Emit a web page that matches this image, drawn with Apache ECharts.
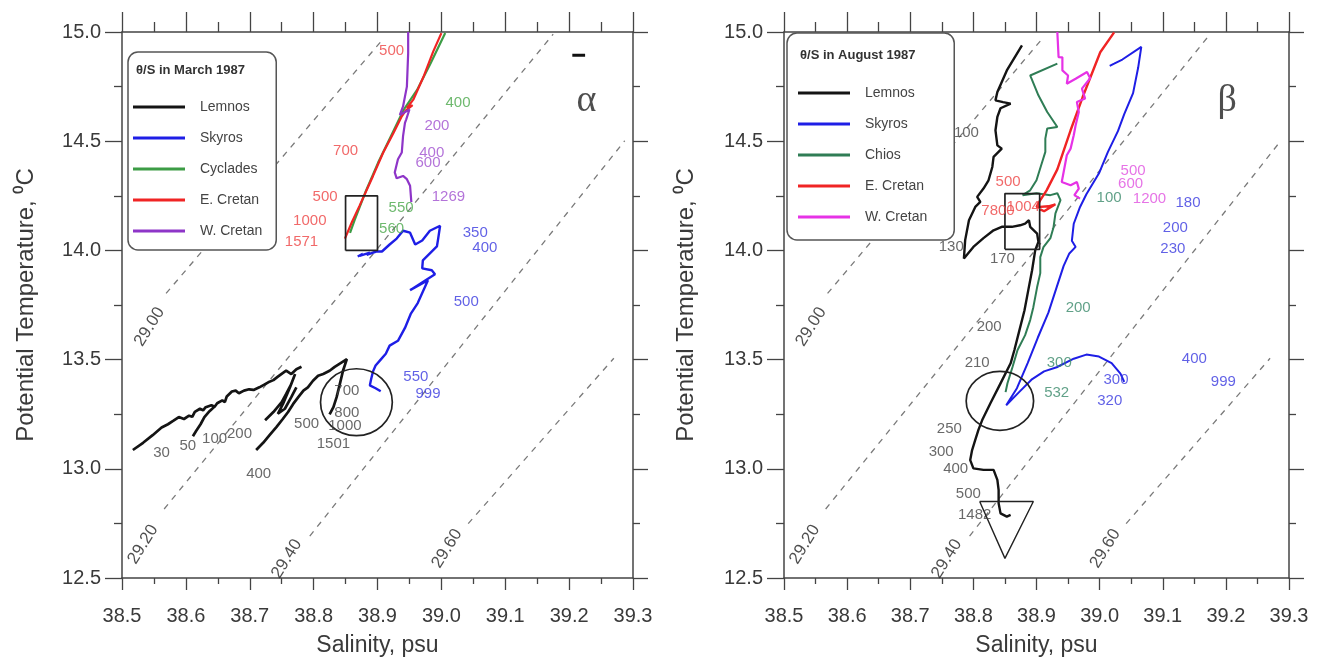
<!DOCTYPE html>
<html><head><meta charset="utf-8">
<script src="https://cdn.jsdelivr.net/npm/echarts@6/dist/echarts.min.js"></script>
<style>html,body{margin:0;padding:0;background:#fff}#c{width:1321px;height:662px}</style>
</head><body><div id="c"></div>
<script>
// ---------- axes ----------
const X_RANGE = [38.5, 39.3], X_STEP = 0.1;
const Y_RANGE = [12.5, 15.0], Y_STEP = 0.5;
const X_NAME = 'Salinity, psu';
const Y_NAME = 'Potential Temperature, \u2070C';
const legendTitles = ['\u03b8/S in March 1987', '\u03b8/S in August 1987'];
const leftNames = ['Lemnos', 'Skyros', 'Cyclades', 'E. Cretan', 'W. Cretan'];
const rightNames = ['Lemnos', 'Skyros', 'Chios', 'E. Cretan', 'W. Cretan'];

// ---------- isopycnals (both panels) ----------
const iso2900 = [[38.569, 13.803], [38.907, 14.962]];
const iso2920 = [[38.566, 12.816], [39.175, 14.990]];
const iso2940 = [[38.794, 12.692], [39.287, 14.502]];
const iso2960 = [[39.042, 12.749], [39.270, 13.506]];
const isoLabels = [[38.543, 13.650, '29.00'], [38.533, 12.654, '29.20'], [38.758, 12.588, '29.40'], [39.009, 12.635, '29.60']];

// ---------- panel alpha: March 1987 ----------
const leftLemnosA = [[38.517,13.086],[38.533,13.119],[38.548,13.154],[38.562,13.189],[38.572,13.204],[38.580,13.219],[38.589,13.237],[38.597,13.228],[38.605,13.243],[38.610,13.238],[38.614,13.261],[38.622,13.275],[38.627,13.268],[38.631,13.282],[38.640,13.291],[38.645,13.284],[38.649,13.300],[38.657,13.313],[38.661,13.305],[38.664,13.331],[38.672,13.354],[38.678,13.358],[38.683,13.346],[38.691,13.358],[38.699,13.364],[38.706,13.361],[38.715,13.373],[38.722,13.384],[38.729,13.396],[38.737,13.406],[38.744,13.422],[38.751,13.437],[38.757,13.449],[38.765,13.434],[38.773,13.456],[38.781,13.467]];
const leftLemnosB = [[38.611,13.149],[38.616,13.173],[38.623,13.204],[38.629,13.237],[38.637,13.264],[38.645,13.285]];
const leftLemnosC = [[38.710,13.086],[38.721,13.119],[38.731,13.154],[38.742,13.192],[38.752,13.229],[38.760,13.260],[38.768,13.297],[38.776,13.328],[38.784,13.358],[38.791,13.373],[38.799,13.403],[38.807,13.426],[38.815,13.434],[38.825,13.449],[38.833,13.467],[38.841,13.482],[38.852,13.502],[38.846,13.449],[38.841,13.388],[38.836,13.328],[38.831,13.282],[38.825,13.249]];
const leftLemnosD = [[38.724,13.222],[38.737,13.260],[38.750,13.305],[38.757,13.343],[38.765,13.388],[38.771,13.434],[38.763,13.373],[38.752,13.297],[38.744,13.252],[38.755,13.275],[38.765,13.328],[38.773,13.373]];
const leftSkyros = [[38.869,13.972],[38.877,13.985],[38.872,13.975],[38.888,13.990],[38.883,13.980],[38.898,13.995],[38.907,13.995],[38.919,14.027],[38.930,14.054],[38.940,14.090],[38.951,14.081],[38.959,14.027],[38.970,14.045],[38.982,14.090],[38.998,14.113],[38.995,14.054],[38.993,14.018],[38.982,13.986],[38.971,13.954],[38.970,13.918],[38.985,13.909],[38.990,13.891],[38.951,13.818],[38.979,13.863],[38.963,13.759],[38.952,13.709],[38.943,13.645],[38.932,13.586],[38.919,13.564],[38.913,13.527],[38.905,13.500],[38.897,13.473],[38.893,13.446],[38.890,13.410],[38.888,13.382],[38.897,13.369],[38.905,13.355]];
const leftCyclades = [[38.857,14.080],[38.864,14.137],[38.881,14.266],[38.901,14.402],[38.921,14.523],[38.941,14.644],[38.962,14.735],[38.983,14.856],[39.006,14.995]];
const leftECretan = [[38.849,14.054],[38.860,14.130],[38.872,14.205],[38.893,14.341],[38.909,14.448],[38.925,14.538],[38.938,14.614],[38.944,14.640],[38.955,14.665],[38.946,14.652],[38.956,14.690],[38.972,14.795],[38.987,14.909],[39.000,14.995]];
const leftWCretan = [[38.948,15.0],[38.948,14.902],[38.946,14.750],[38.940,14.659],[38.935,14.620],[38.950,14.645],[38.945,14.600],[38.943,14.584],[38.940,14.523],[38.938,14.448],[38.932,14.417],[38.927,14.357],[38.930,14.330],[38.940,14.341],[38.946,14.326],[38.951,14.296],[38.953,14.221]];

const leftLemnosLabels = [[38.562,13.074,'30'],[38.603,13.105,'50'],[38.645,13.137,'100'],[38.684,13.160,'200'],[38.714,12.978,'400'],[38.789,13.204,'500'],[38.852,13.358,'700'],[38.852,13.255,'800'],[38.849,13.195,'1000'],[38.831,13.116,'1501']];
const leftSkyrosLabels = [[39.053,14.082,'350'],[39.068,14.013,'400'],[39.039,13.764,'500'],[38.960,13.419,'550'],[38.979,13.341,'999']];
const leftCycladesLabels = [[39.026,14.675,'400'],[38.937,14.195,'550'],[38.922,14.099,'560']];
const leftECretanLabels = [[38.922,14.912,'500'],[38.850,14.458,'700'],[38.818,14.245,'500'],[38.794,14.136,'1000'],[38.781,14.041,'1571']];
const leftWCretanLabels = [[38.993,14.568,'200'],[38.985,14.448,'400'],[38.979,14.402,'600'],[39.011,14.243,'1269']];

const leftBox = [[38.85,14.0],[38.90,14.0],[38.90,14.25],[38.85,14.25],[38.85,14.0]];
const leftEllipse = [38.867, 13.305, 0.0562, 0.153];   // centre S, centre T, radius S, radius T
const leftDash = [[39.205,14.893],[39.225,14.893]];
const leftGreek = [[39.227,14.685,'\u03b1']];

// ---------- panel beta: August 1987 ----------
const rightLemnos = [[38.877,14.939],[38.853,14.824],[38.838,14.725],[38.835,14.687],[38.847,14.679],[38.859,14.672],[38.843,14.651],[38.838,14.611],[38.835,14.550],[38.838,14.481],[38.845,14.466],[38.832,14.428],[38.830,14.382],[38.824,14.321],[38.816,14.283],[38.806,14.245],[38.811,14.222],[38.803,14.199],[38.793,14.138],[38.787,14.047],[38.785,13.963],[38.800,14.016],[38.816,14.056],[38.832,14.092],[38.845,14.108],[38.861,14.108],[38.874,14.115],[38.882,14.123],[38.888,14.138],[38.890,14.108],[38.901,14.077],[38.903,14.039],[38.898,14.001],[38.893,13.909],[38.887,13.818],[38.881,13.726],[38.873,13.635],[38.865,13.544],[38.859,13.483],[38.843,13.391],[38.827,13.300],[38.814,13.223],[38.808,13.178],[38.803,13.132],[38.798,13.086],[38.795,13.040],[38.800,13.002],[38.816,12.995],[38.832,12.995],[38.838,12.949],[38.840,12.903],[38.840,12.842],[38.843,12.796],[38.853,12.781],[38.859,12.789]];
const rightSkyros = [[39.016,14.845],[39.023,14.855],[39.036,14.874],[39.066,14.932],[39.061,14.836],[39.053,14.720],[39.039,14.624],[39.029,14.546],[39.013,14.450],[38.999,14.353],[38.979,14.257],[38.969,14.199],[38.959,14.122],[38.956,14.044],[38.962,14.016],[38.952,13.986],[38.943,13.929],[38.932,13.832],[38.919,13.716],[38.902,13.600],[38.886,13.484],[38.869,13.369],[38.852,13.291],[38.872,13.350],[38.892,13.408],[38.912,13.446],[38.932,13.465],[38.959,13.504],[38.979,13.523],[38.999,13.514],[39.019,13.484],[39.033,13.436],[39.039,13.398]];
const rightChios = [[38.933,14.855],[38.890,14.801],[38.903,14.710],[38.917,14.634],[38.933,14.565],[38.917,14.558],[38.914,14.512],[38.914,14.451],[38.909,14.405],[38.900,14.321],[38.890,14.275],[38.878,14.253],[38.900,14.262],[38.922,14.253],[38.933,14.262],[38.938,14.230],[38.930,14.170],[38.927,14.106],[38.922,14.056],[38.911,14.015],[38.906,13.969],[38.906,13.896],[38.901,13.832],[38.895,13.740],[38.890,13.681],[38.882,13.612],[38.870,13.544],[38.862,13.466],[38.854,13.392],[38.851,13.351]];
const rightECretan = [[39.023,14.998],[39.001,14.907],[38.973,14.701],[38.954,14.550],[38.933,14.371],[38.916,14.275],[38.906,14.230],[38.900,14.198],[38.919,14.202],[38.930,14.211],[38.912,14.179],[38.906,14.188]];
const rightWCretan = [[38.933,15.0],[38.935,14.885],[38.941,14.884],[38.941,14.824],[38.938,14.817],[38.950,14.801],[38.948,14.763],[38.962,14.786],[38.980,14.817],[38.985,14.788],[38.972,14.741],[38.977,14.695],[38.964,14.679],[38.967,14.634],[38.962,14.573],[38.959,14.527],[38.954,14.466],[38.948,14.436],[38.946,14.405],[38.943,14.359],[38.940,14.313],[38.954,14.298],[38.964,14.313],[38.967,14.283],[38.960,14.253],[38.969,14.237]];

const rightLemnosLabels = [[38.789,14.537,'100'],[38.765,14.016,'130'],[38.846,13.963,'170'],[38.825,13.649,'200'],[38.806,13.484,'210'],[38.762,13.185,'250'],[38.749,13.079,'300'],[38.772,12.998,'400'],[38.792,12.886,'500'],[38.802,12.790,'1482']];
const rightSkyrosLabels = [[39.140,14.218,'180'],[39.120,14.102,'200'],[39.116,14.006,'230'],[39.026,13.408,'300'],[39.016,13.311,'320'],[39.150,13.504,'400'],[39.196,13.398,'999']];
const rightChiosLabels = [[39.015,14.239,'100'],[38.966,13.736,'200'],[38.936,13.484,'300'],[38.932,13.350,'532']];
const rightECretanLabels = [[38.855,14.315,'500'],[38.839,14.179,'7800'],[38.879,14.199,'1004']];
const rightWCretanLabels = [[39.053,14.363,'500'],[39.049,14.305,'600'],[39.079,14.237,'1200']];

const rightBox = [[38.85,14.005],[38.905,14.005],[38.905,14.26],[38.85,14.26],[38.85,14.005]];
const rightEllipse = [38.842, 13.311, 0.0534, 0.135];
const rightTriangle = [[38.81,12.85],[38.895,12.85],[38.85,12.59],[38.81,12.85]];
const rightGreek = [[39.202,14.683,'\u03b2']];

// ---------- styles ----------
const FONT = '"Liberation Sans", Arial, sans-serif';
const AXIS_C = '#444', LABEL_C = '#3a3a3a';
const C = {lemnos:'#141414', skyros:'#1e1ee6', cyclades:'#3c9c45', ecretan:'#f02424', wcretanL:'#8e35c8', chios:'#2f7d55', wcretanR:'#e632e6'};
const LC = {lemnos:'#444', skyros:'#3a3ae0', cyclades:'#4aa84a', ecretan:'#ee4444', wcretanL:'#a050d0', chios:'#3a8a6a', wcretanR:'#e050e0'};

function xAx(g, top) {
  return {type:'value', gridIndex:g, position: top ? 'top' : 'bottom', min:X_RANGE[0], max:X_RANGE[1], interval:X_STEP,
    axisLine:{show:true, onZero:false, lineStyle:{color:AXIS_C, width:1.5}},
    axisTick:{show:true, inside:false, length: top ? 20 : 12, lineStyle:{color:AXIS_C, width:1.3}},
    minorTick:{show:true, splitNumber:2, length: top ? 10 : 6, lineStyle:{color:AXIS_C, width:1.3}},
    splitLine:{show:false}, minorSplitLine:{show:false},
    axisLabel:{show:!top, margin:28, fontSize:20, color:LABEL_C, fontFamily:FONT, formatter:v => v.toFixed(1)},
    name: top ? '' : X_NAME, nameLocation:'middle', nameGap: 56,
    nameTextStyle:{fontSize:23, color:LABEL_C, fontFamily:FONT}};
}
function yAx(g, right, gap) {
  return {type:'value', gridIndex:g, position: right ? 'right' : 'left', min:Y_RANGE[0], max:Y_RANGE[1], interval:Y_STEP,
    axisLine:{show:true, onZero:false, lineStyle:{color:AXIS_C, width:1.5}},
    axisTick:{show:true, inside:false, length: right ? 15 : 17, lineStyle:{color:AXIS_C, width:1.3}},
    minorTick:{show:true, splitNumber:2, length: right ? 7 : 8, lineStyle:{color:AXIS_C, width:1.3}},
    splitLine:{show:false}, minorSplitLine:{show:false},
    axisLabel:{show:!right, margin:21, fontSize:20, color:LABEL_C, fontFamily:FONT, formatter:v => v.toFixed(1)},
    name: right ? '' : Y_NAME, nameLocation:'middle', nameGap: gap, nameRotate: 90,
    nameTextStyle:{fontSize:24, color:LABEL_C, fontFamily:FONT}};
}
function lineS(name, data, color, p, width, extra) {
  return Object.assign({type:'line', name, data, xAxisIndex:p*2, yAxisIndex:p*2, showSymbol:false, symbol:'none',
    lineStyle:{color, width: width || 2}, itemStyle:{color}, silent:true, z:3, clip:true}, extra || {});
}
function isoS(data, p) {
  return lineS('iso', data, '#7a7a7a', p, 1.3, {lineStyle:{color:'#7a7a7a', width:1.3, type:[6,6]}, z:2});
}
function labelS(items, color, p, fontSize, extra) {
  return {type:'scatter', name:'lbl', xAxisIndex:p*2, yAxisIndex:p*2, symbolSize:1, silent:true, z:6,
    itemStyle:{color:'rgba(0,0,0,0)'},
    data: items.map(d => ({value:[d[0], d[1]], name:d[2]})),
    label: Object.assign({show:true, position:'inside', formatter:'{b}', color, fontSize: fontSize || 15, fontFamily:FONT}, extra || {})};
}
function ellipseS(e, p) {
  return {type:'custom', name:'ell', xAxisIndex:p*2, yAxisIndex:p*2, silent:true, z:4, data:[e],
    renderItem:(params, api) => {
      const c = api.coord([api.value(0), api.value(1)]);
      const s = api.size([api.value(2), api.value(3)]);
      const rx = s[0], ry = s[1];
      return {type:'path', shape:{pathData:
        'M ' + (c[0]-rx) + ' ' + c[1] + ' A ' + rx + ' ' + ry + ' 0 1 0 ' + (c[0]+rx) + ' ' + c[1] +
        ' A ' + rx + ' ' + ry + ' 0 1 0 ' + (c[0]-rx) + ' ' + c[1] + ' Z'},
        style:{fill:'none', stroke:'#222', lineWidth:1.7}};
    }};
}

const series = [];
for (const p of [0, 1]) {
  series.push(isoS(iso2900, p), isoS(iso2920, p), isoS(iso2940, p), isoS(iso2960, p));
  series.push(labelS(isoLabels, '#222', p, 17, {rotate:58}));
}
// panel alpha
[leftLemnosA, leftLemnosB, leftLemnosC, leftLemnosD].forEach(seg => series.push(lineS('Lemnos', seg, C.lemnos, 0, 2.7)));
series.push(lineS('Skyros', leftSkyros, C.skyros, 0, 2.4));
series.push(lineS('Cyclades', leftCyclades, C.cyclades, 0, 2.2));
series.push(lineS('E. Cretan', leftECretan, C.ecretan, 0, 2.2));
series.push(lineS('W. Cretan', leftWCretan, C.wcretanL, 0, 2.2));
series.push(lineS('box', leftBox, '#222', 0, 1.7));
series.push(ellipseS(leftEllipse, 0));
series.push(lineS('dash', leftDash, '#111', 0, 3));
series.push(labelS(leftLemnosLabels, LC.lemnos, 0));
series.push(labelS(leftSkyrosLabels, LC.skyros, 0));
series.push(labelS(leftCycladesLabels, LC.cyclades, 0));
series.push(labelS(leftECretanLabels, LC.ecretan, 0));
series.push(labelS(leftWCretanLabels, LC.wcretanL, 0));
series.push(labelS(leftGreek, '#222', 0, 38, {fontFamily:'"Liberation Serif", "DejaVu Serif", serif'}));
// panel beta
series.push(lineS('Lemnos', rightLemnos, C.lemnos, 1, 2.4));
series.push(lineS('Skyros', rightSkyros, C.skyros, 1, 2));
series.push(lineS('Chios', rightChios, C.chios, 1, 2));
series.push(lineS('E. Cretan', rightECretan, C.ecretan, 1, 2.4));
series.push(lineS('W. Cretan', rightWCretan, C.wcretanR, 1, 2.2));
series.push(lineS('box', rightBox, '#222', 1, 1.7));
series.push(lineS('tri', rightTriangle, '#222', 1, 1.4));
series.push(ellipseS(rightEllipse, 1));
series.push(labelS(rightLemnosLabels, LC.lemnos, 1));
series.push(labelS(rightSkyrosLabels, LC.skyros, 1));
series.push(labelS(rightChiosLabels, LC.chios, 1));
series.push(labelS(rightECretanLabels, LC.ecretan, 1));
series.push(labelS(rightWCretanLabels, LC.wcretanR, 1));
series.push(labelS(rightGreek, '#222', 1, 38, {fontFamily:'"Liberation Serif", "DejaVu Serif", serif'}));

function legendData(names, wc) {
  return names.map(n => n === 'W. Cretan' ? {name:n, itemStyle:{color:wc}} : n);
}
const legendCommon = {orient:'vertical', icon:'rect', itemWidth:52, itemHeight:3, itemGap:15, selectedMode:false,
  backgroundColor:'#fff', borderColor:'#555', borderWidth:1.5, borderRadius:10, z:10,
  textStyle:{fontSize:14, color:'#444', fontFamily:FONT, lineHeight:16, padding:[0,0,0,10]}};

const option = {
  animation:false,
  backgroundColor:'#fff',
  title:[
    {text:legendTitles[0], left:136, top:64, padding:0, z:11, textStyle:{fontSize:13, fontWeight:'bold', color:'#333', fontFamily:FONT}},
    {text:legendTitles[1], left:800, top:49, padding:0, z:11, textStyle:{fontSize:13, fontWeight:'bold', color:'#333', fontFamily:FONT}}
  ],
  legend:[
    Object.assign({}, legendCommon, {data:legendData(leftNames, C.wcretanL), left:128, top:52, padding:[47,14,11,5]}),
    Object.assign({}, legendCommon, {data:legendData(rightNames, C.wcretanR), left:787, top:33, padding:[52,27,15,11]})
  ],
  grid:[
    {left:122, top:32, width:511, height:550},
    {left:784, top:32, width:505, height:546}
  ],
  xAxis:[xAx(0,false), xAx(0,true), xAx(1,false), xAx(1,true)],
  yAxis:[yAx(0,false,84), yAx(0,true,0), yAx(1,false,86), yAx(1,true,0)],
  series
};
const chart = echarts.init(document.getElementById('c'), null, {renderer:'canvas'});
chart.setOption(option);
</script></body></html>
